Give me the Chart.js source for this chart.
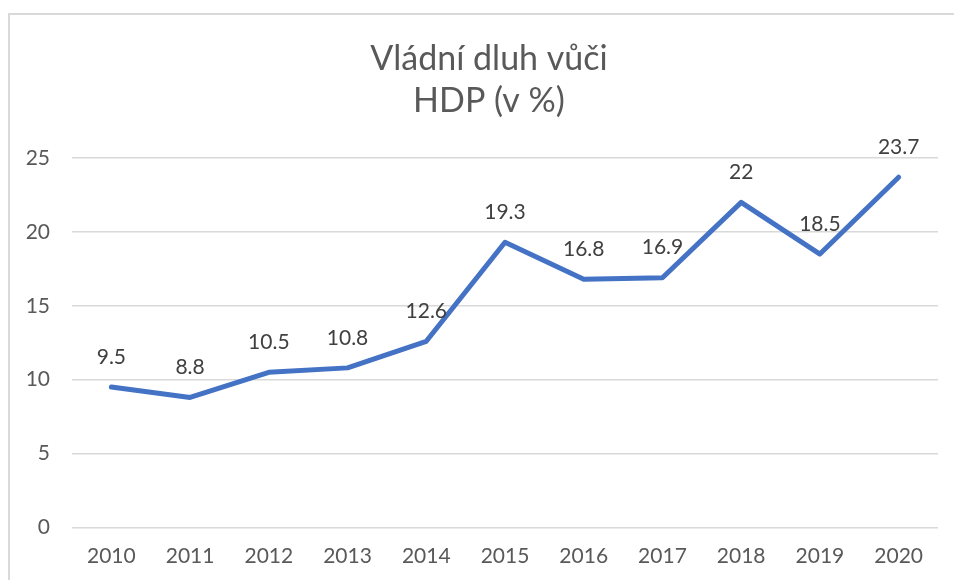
<!DOCTYPE html>
<html>
<head>
<meta charset="utf-8">
<script src="https://cdn.jsdelivr.net/npm/chart.js@4.4.1/dist/chart.umd.min.js"></script>
<style>
  html, body { margin: 0; padding: 0; background: #fff; overflow: hidden; }
  #frame { position: absolute; left: 8px; top: 13px; width: 980px; height: 620px; border: 2px solid #d9d9d9; box-sizing: border-box; }
  #wrap { position: absolute; left: 0; top: 0; width: 954px; height: 580px; }
</style>
</head>
<body>
<div id="frame"></div>
<div id="wrap"><canvas id="c" width="954" height="580"></canvas></div>
<script>
const years = ['2010','2011','2012','2013','2014','2015','2016','2017','2018','2019','2020'];
const debtRatio = [9.5, 8.8, 10.5, 10.8, 12.6, 19.3, 16.8, 16.9, 22, 18.5, 23.7];
const yTicks = [0, 5, 10, 15, 20, 25];
const titleLines = ['Vládní dluh vůči', 'HDP (v %)'];

const FONT = 'Lato, "Open Sans", sans-serif';

const titlePlugin = {
  id: 'twoLineTitle',
  afterDraw(chart) {
    const ctx = chart.ctx;
    ctx.save();
    ctx.fillStyle = '#595959';
    ctx.font = '34px ' + FONT;
    ctx.textAlign = 'center';
    ctx.textBaseline = 'middle';
    ctx.fillText(titleLines[0], 489, 59);
    ctx.fillText(titleLines[1], 489, 101);
    ctx.restore();
  }
};

const labelPlugin = {
  id: 'pointLabels',
  afterDatasetsDraw(chart) {
    const ctx = chart.ctx;
    const meta = chart.getDatasetMeta(0);
    ctx.save();
    ctx.fillStyle = '#404040';
    ctx.font = '21px ' + FONT;
    ctx.textAlign = 'center';
    ctx.textBaseline = 'middle';
    meta.data.forEach((pt, i) => {
      ctx.fillText(String(debtRatio[i]), pt.x, pt.y - 30);
    });
    ctx.restore();
  }
};

new Chart(document.getElementById('c'), {
  type: 'line',
  data: {
    labels: years,
    datasets: [{
      data: debtRatio,
      borderColor: '#4472C4',
      borderWidth: 5,
      pointRadius: 0,
      pointHoverRadius: 0,
      tension: 0,
      fill: false,
      borderCapStyle: 'round',
      borderJoinStyle: 'round'
    }]
  },
  options: {
    responsive: false,
    animation: false,
    events: [],
    layout: { padding: { top: 158, left: 0, right: 16, bottom: 0 } },
    plugins: {
      legend: { display: false },
      title: { display: false },
      tooltip: { enabled: false }
    },
    scales: {
      x: {
        offset: true,
        afterFit(scale) { scale.height = 52.5; },
        grid: { display: false, drawTicks: false },
        border: { display: false },
        ticks: { color: '#595959', font: { family: FONT, size: 21 }, padding: 16, maxRotation: 0 }
      },
      y: {
        min: 0,
        max: 25,
        afterBuildTicks(scale) { scale.ticks = yTicks.map(v => ({ value: v })); },
        afterFit(scale) { scale.width = 72; },
        grid: { color: '#d9d9d9', lineWidth: 1.5, drawTicks: false },
        border: { display: false },
        ticks: { color: '#595959', font: { family: FONT, size: 21 }, padding: 22 }
      }
    }
  },
  plugins: [titlePlugin, labelPlugin]
});
</script>
</body>
</html>
